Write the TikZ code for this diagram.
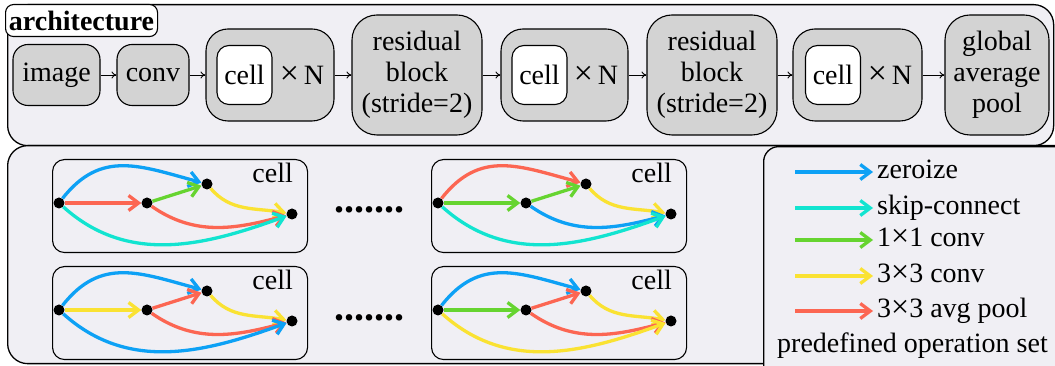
\documentclass[tikz,border=0pt]{standalone}
\usepackage{fontspec}
\setmainfont{Liberation Serif}
\usetikzlibrary{arrows.meta}
\definecolor{panelbg}{RGB}{240,239,244}
\definecolor{nodegrey}{RGB}{211,211,211}
\definecolor{opblue}{RGB}{13,161,245}
\definecolor{opcyan}{RGB}{18,228,208}
\definecolor{opgreen}{RGB}{102,212,48}
\definecolor{opyellow}{RGB}{250,226,50}
\definecolor{opred}{RGB}{252,102,82}
\newcommand\bigx{{\fontsize{34}{34}\selectfont ×}}
\newcommand\midx{{\fontsize{32}{32}\selectfont ×}}
\tikzset{
  panel/.style={draw, line width=1.3, fill=panelbg, rounded corners=20, inner sep=0, anchor=north west},
  blk/.style={draw, line width=1.1, fill=nodegrey, rounded corners=15, inner sep=0, align=center, font=\fontsize{28}{31}\selectfont},
  innercell/.style={draw, line width=1.1, fill=white, rounded corners=12, inner sep=0, minimum width=55, minimum height=59, font=\fontsize{28}{31}\selectfont},
  flow/.style={-{To[length=5pt,width=7pt]}, line width=0.9},
  cellbox/.style={draw, line width=1.1, rounded corners=12, inner sep=0, anchor=north west, minimum width=255, minimum height=93},
  vtx/.style={circle, fill=black, inner sep=0, minimum size=11},
  op/.style={line width=3.3, -{Straight Barb[length=10pt,width=15pt]}},
  lbl/.style={font=\fontsize{28}{31}\selectfont, inner sep=0},
}
\newcommand\drawcell[9]{%
  \node[cellbox] (#1box) at (#2,#3) {};
  \node[lbl, anchor=base east] (#1lbl) at (#2+241,#3-24) {cell};
  \node[vtx] (#1a) at (#2+7,#3-44) {};
  \node[vtx] (#1b) at (#2+95,#3-44) {};
  \node[vtx] (#1c) at (#2+155,#3-25) {};
  \node[vtx] (#1d) at (#2+240,#3-55) {};
  \draw[op,#4] (#1a) to[out=52,in=165,looseness=1.15] (#1c);
  \draw[op,#5] (#1a) -- (#1b);
  \draw[op,#6] (#1b) -- (#1c);
  \draw[op,#7] (#1c) to[out=-50,in=170] (#1d);
  \draw[op,#8] (#1b) to[out=-35,in=195] (#1d);
  \draw[op,#9] (#1a) to[out=-42,in=200] (#1d);
}
\begin{document}
\begin{tikzpicture}[x=1pt,y=1pt]
\clip (0,0) rectangle (1055,366);
% panels
\node[panel, minimum width=1046, minimum height=141] (toppanel) at (7,362) {};
\node[panel, minimum width=1073, minimum height=218] (botpanel) at (7,221) {};
\node[panel, rounded corners=15, minimum width=330, minimum height=260] (legbox) at (763,220) {};
\node[draw, line width=1.1, fill=white, rounded corners=8, inner sep=0, minimum width=152, minimum height=32, anchor=north west, font=\bfseries\fontsize{28}{31}\selectfont] (archlbl) at (5,362) {architecture};
% top row
\node[blk, minimum width=87, minimum height=61] (img) at (56.5,291) {image};
\node[blk, minimum width=72, minimum height=61] (conv) at (153,291) {conv};
\node[blk, minimum width=128, minimum height=92, rounded corners=22] (s1) at (270,291) {};
\node[innercell] (s1c) at (244.5,291) {cell};
\node[lbl] (s1n) at (302,291) {\bigx\,N};
\node[blk, minimum width=130, minimum height=120, rounded corners=25] (r1) at (417,291) {residual\\block\\(stride=2)};
\node[blk, minimum width=127, minimum height=92, rounded corners=22] (s2) at (564.5,291) {};
\node[innercell] (s2c) at (539.5,291) {cell};
\node[lbl] (s2n) at (596,291) {\bigx\,N};
\node[blk, minimum width=130, minimum height=120, rounded corners=25] (r2) at (712,291) {residual\\block\\(stride=2)};
\node[blk, minimum width=129, minimum height=92, rounded corners=22] (s3) at (857.5,291) {};
\node[innercell] (s3c) at (833,291) {cell};
\node[lbl] (s3n) at (890,291) {\bigx\,N};
\node[blk, minimum width=104, minimum height=120, rounded corners=25] (gap) at (997,291) {global\\average\\pool};
\draw[flow] (img) -- (conv);
\draw[flow] (conv) -- (s1);
\draw[flow] (s1) -- (r1);
\draw[flow] (r1) -- (s2);
\draw[flow] (s2) -- (r2);
\draw[flow] (r2) -- (s3);
\draw[flow] (s3) -- (gap);
% cells
\drawcell{p}{52}{207}{opblue}{opred}{opgreen}{opyellow}{opred}{opcyan}
\drawcell{q}{52}{100}{opblue}{opyellow}{opred}{opyellow}{opred}{opblue}
\drawcell{r}{431}{207}{opred}{opgreen}{opgreen}{opyellow}{opblue}{opcyan}
\drawcell{s}{431}{100}{opblue}{opgreen}{opred}{opyellow}{opred}{opyellow}
\node[font=\bfseries\fontsize{40}{40}\selectfont, anchor=base, inner sep=0] (dots1) at (369,153) {.......};
\node[font=\bfseries\fontsize{40}{40}\selectfont, anchor=base, inner sep=0] (dots2) at (369,45) {.......};
% legend
\coordinate (l1s) at (795,194); \coordinate (l1e) at (873,194);
\coordinate (l2s) at (795,158); \coordinate (l2e) at (873,158);
\coordinate (l3s) at (795,126); \coordinate (l3e) at (873,126);
\coordinate (l4s) at (795,90);  \coordinate (l4e) at (873,90);
\coordinate (l5s) at (795,55);  \coordinate (l5e) at (873,55);
\draw[op,opblue] (l1s) -- (l1e);
\draw[op,opcyan] (l2s) -- (l2e);
\draw[op,opgreen] (l3s) -- (l3e);
\draw[op,opyellow] (l4s) -- (l4e);
\draw[op,opred] (l5s) -- (l5e);
\node[lbl, anchor=base west] (l1t) at (877,187) {zeroize};
\node[lbl, anchor=base west] (l2t) at (877,151) {skip-connect};
\node[lbl, anchor=base west] (l3t) at (877,119) {1\midx1 conv};
\node[lbl, anchor=base west] (l4t) at (877,83) {3\midx3 conv};
\node[lbl, anchor=base west] (l5t) at (877,48) {3\midx3 avg pool};
\node[lbl, anchor=base west] (legtitle) at (777,13) {predefined operation set};
\end{tikzpicture}
\end{document}
